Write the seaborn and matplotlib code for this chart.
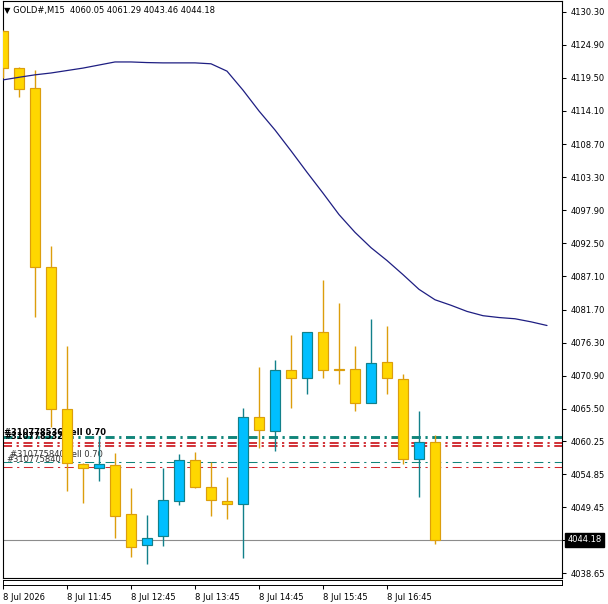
import numpy as np
import matplotlib
matplotlib.use("Agg")
import matplotlib.pyplot as plt
import seaborn as sns

sns.set_theme(style="white")
plt.rcParams["font.family"] = ["DejaVu Sans"]
plt.rcParams["lines.scale_dashes"] = False

# ---------------- data ----------------
title_text = "\u25BC GOLD#,M15  4060.05 4061.29 4043.46 4044.18"

opens = [4127.2, 4121.1, 4117.9, 4088.6, 4065.45, 4056.5, 4055.8, 4056.3, 4048.3, 4043.3,
         4044.7, 4050.4, 4057.1, 4052.75, 4050.4, 4049.9, 4064.2, 4061.85, 4071.8, 4070.6,
         4078.05, 4072.0, 4072.0, 4066.45, 4073.2, 4070.35, 4057.3, 4060.05]
highs = [4127.3, 4121.3, 4120.8, 4092.0, 4075.8, 4056.6, 4060.8, 4058.35, 4052.6, 4048.15,
         4055.8, 4058.2, 4058.5, 4056.9, 4054.4, 4065.6, 4072.4, 4073.4, 4077.6, 4078.1,
         4086.45, 4082.85, 4075.8, 4080.2, 4079.05, 4071.18, 4065.17, 4061.29]
lows = [4119.5, 4116.4, 4080.55, 4062.5, 4052.1, 4050.07, 4053.7, 4044.5, 4041.4, 4040.25,
        4043.2, 4049.75, 4052.6, 4048.1, 4047.45, 4041.2, 4059.07, 4058.6, 4065.7, 4067.9,
        4070.6, 4069.5, 4065.2, 4066.4, 4068.0, 4056.55, 4051.15, 4043.46]
closes = [4121.1, 4117.7, 4088.6, 4065.45, 4056.6, 4055.8, 4056.45, 4048.1, 4043.0, 4044.4,
          4050.55, 4057.1, 4052.7, 4050.55, 4049.9, 4064.2, 4062.0, 4071.8, 4070.6, 4078.05,
          4071.9, 4071.9, 4066.45, 4073.0, 4070.5, 4057.3, 4060.05, 4044.18]

ma_values = [4119.17, 4119.6, 4120.0, 4120.3, 4120.7, 4121.1, 4121.6, 4122.1, 4122.1, 4122.0,
             4121.95, 4121.95, 4121.95, 4121.8, 4120.6, 4117.5, 4114.1, 4111.0, 4107.6, 4104.1,
             4100.7, 4097.2, 4094.3, 4091.8, 4089.7, 4087.4, 4085.0, 4083.3, 4082.4, 4081.4,
             4080.7, 4080.4, 4080.2, 4079.7, 4079.1]

time_tick_bars = [0, 4, 8, 12, 16, 20, 24]
time_labels = ["8 Jul 2026", "8 Jul 11:45", "8 Jul 12:45", "8 Jul 13:45",
               "8 Jul 14:45", "8 Jul 15:45", "8 Jul 16:45"]

price_ticks = [4130.30, 4124.90, 4119.50, 4114.10, 4108.70, 4103.30, 4097.90, 4092.50,
               4087.10, 4081.70, 4076.30, 4070.90, 4065.50, 4060.25, 4054.85, 4049.45,
               4044.18, 4038.65]
price_labels = ["4130.30", "4124.90", "4119.50", "4114.10", "4108.70", "4103.30", "4097.90",
                "4092.50", "4087.10", "4081.70", "4076.30", "4070.90", "4065.50", "4060.25",
                "4054.85", "4049.45", "", "4038.65"]
bid_price = 4044.18
bid_label = "4044.18"

order_prices = [4060.86, 4059.88, 4059.41, 4056.83, 4055.97]
order_kinds = ["teal", "red", "red", "teal", "red"]
order_width = [2.1, 1.35, 1.35, 0.75, 0.75]

label_texts = ["#310778536 sell 0.70", "#310778532", "#310775840 sell 0.70", "#310775840"]
label_prices = [4061.68, 4060.92, 4058.06, 4057.16]
label_bars = [0.06, 0.06, 0.44, 0.19]
label_bold = [True, True, False, False]

# ---------------- layout ----------------
W, H = 608, 604
def fx(px):
    return px / W
def fy(py):
    return 1 - py / H

fig = plt.figure(figsize=(W / 100, H / 100), dpi=100, facecolor="white")
ax = fig.add_axes([fx(3), fy(577.5), fx(562) - fx(3), fy(1) - fy(577.5)])
strip = fig.add_axes([fx(3), fy(585), fx(562) - fx(3), fy(580) - fy(585)], sharex=ax)

px_per_unit = 6.129
ax.set_ylim(4130.30 - (577.5 - 11.7) / px_per_unit, 4130.30 + (11.7 - 1) / px_per_unit)
ax.set_xlim(0, (562 - 3) / 16)

# ---------------- order lines ----------------
col_map = {"teal": "#11857a", "red": "#d0282e"}
for p, k, w in zip(order_prices, order_kinds, order_width):
    ax.axhline(p, color=col_map[k], lw=w,
               linestyle=(0, (6.5, 3.3, 1.6, 3.3)), zorder=2)

ax.axhline(bid_price, color="#8c8c8c", lw=0.8, zorder=2)

for t, p, b, bold in zip(label_texts, label_prices, label_bars, label_bold):
    ax.text(b, p, t, fontsize=6, fontweight="bold" if bold else "normal",
            color="black" if bold else "#333333", va="center", ha="left", zorder=2.5)

# ---------------- candles ----------------
idx = np.arange(len(opens))
o = np.array(opens); c = np.array(closes); h = np.array(highs); l = np.array(lows)
bull = c > o
fill = np.where(bull, "#00bfff", "#ffd700")
edge = np.where(bull, "#12808a", "#dc9e0c")
ax.vlines(idx, l, h, colors=edge, lw=1.0, zorder=3)
bodies = np.maximum(np.abs(c - o), 0.02)
ax.bar(idx, bodies, bottom=np.minimum(o, c), width=0.6, color=fill,
       edgecolor=edge, linewidth=0.85, zorder=4)

# ---------------- moving average ----------------
sns.lineplot(x=np.arange(len(ma_values)), y=ma_values, ax=ax, color="#1e1e82",
             lw=0.9, legend=False, zorder=5)
ax.set_xlabel("")
ax.set_ylabel("")

# ---------------- axes styling ----------------
ax.yaxis.tick_right()
ax.set_yticks(price_ticks)
ax.set_yticklabels(price_labels)
ax.tick_params(axis="y", which="both", left=False, right=True, labelleft=False,
               labelright=True, direction="out", length=3, width=0.75, pad=3,
               labelsize=6, colors="black")
ax.tick_params(axis="x", bottom=False, labelbottom=False)
for s in ax.spines.values():
    s.set_color("black")
    s.set_linewidth(0.8)
ax.set_facecolor("white")

ax.text(1 + 5.5 / 559, bid_price, bid_label, transform=ax.get_yaxis_transform(),
        fontsize=6, color="white", va="center", ha="left", clip_on=False,
        bbox=dict(boxstyle="square,pad=0.3", fc="black", ec="black"))

strip.set_yticks([])
strip.set_xticks(time_tick_bars)
strip.set_xticklabels(time_labels)
strip.tick_params(axis="x", bottom=True, direction="out", length=3, width=0.75,
                  pad=3, labelsize=6, colors="black")
for lbl in strip.get_xticklabels():
    lbl.set_ha("left")
for s in strip.spines.values():
    s.set_color("black")
    s.set_linewidth(0.7)
strip.set_facecolor("white")

fig.text(fx(4), fy(10.5), title_text, fontsize=6, va="center", ha="left", color="black")

fig.savefig("out.png", dpi=100, facecolor="white")
